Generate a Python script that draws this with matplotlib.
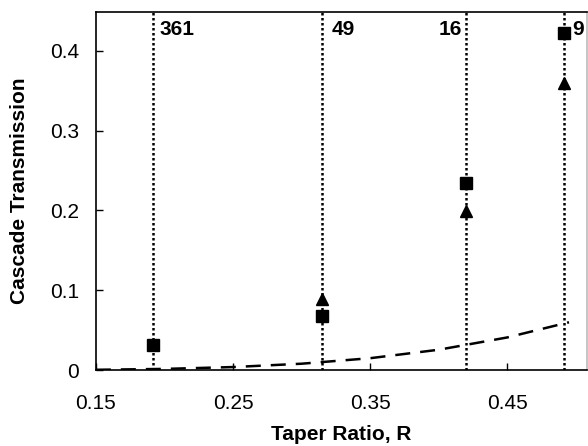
import matplotlib
matplotlib.use("Agg")
import matplotlib.pyplot as plt

plt.rcParams['font.family'] = ['Liberation Sans', 'DejaVu Sans']

# Taper ratios of the cascades and their labels (number of elements)
taper_R = [0.192, 0.315, 0.420, 0.491]
cascade_labels = ["361", "49", "16", "9"]

# Measured transmission (squares) and second series (triangles)
square_R = [0.192, 0.315, 0.420, 0.491]
square_T = [0.031, 0.0675, 0.235, 0.4225]
tri_R = [0.315, 0.420, 0.491]
tri_T = [0.089, 0.199, 0.359]

# Dashed theoretical curve
curve_R = [0.15, 0.20, 0.25, 0.30, 0.35, 0.40, 0.45, 0.495]
curve_T = [0.0005, 0.0016, 0.0039, 0.0081, 0.015, 0.0256, 0.041, 0.060]

xticks = [0.15, 0.25, 0.35, 0.45]
xticklabels = ["0.15", "0.25", "0.35", "0.45"]
yticks = [0, 0.1, 0.2, 0.3, 0.4]
yticklabels = ["0", "0.1", "0.2", "0.3", "0.4"]

fig = plt.figure(figsize=(5.88, 4.46), dpi=100)
ax = fig.add_axes([0.163, 0.170, 0.835, 0.804])

for r in taper_R:
    ax.axvline(r, color='black', linestyle=(0, (1, 1)), linewidth=1.8, zorder=1)

ax.plot(curve_R, curve_T, color='black', linestyle=(0, (6, 4)), linewidth=1.8, zorder=2)
ax.plot(square_R, square_T, linestyle='none', marker='s', markersize=8.5,
        color='black', zorder=3)
ax.plot(tri_R, tri_T, linestyle='none', marker='^', markersize=9,
        color='black', zorder=3)

# cascade labels
offsets = [(4, 'left'), (7, 'left'), (-3, 'right'), (6, 'left')]
for r, lab, (dx, ha) in zip(taper_R, cascade_labels, offsets):
    ax.annotate(lab, xy=(r, 0.426), xytext=(dx, 0), textcoords='offset points',
                ha=ha, va='center', fontsize=15, fontweight='bold')

ax.set_xlim(0.15, 0.508)
ax.set_ylim(0, 0.449)
ax.set_xticks(xticks)
ax.set_xticklabels(xticklabels)
ax.set_yticks(yticks)
ax.set_yticklabels(yticklabels)
ax.tick_params(direction='in', length=5, width=1, labelsize=15)
ax.tick_params(axis='x', pad=17)
ax.tick_params(axis='y', pad=12)
for s in ax.spines.values():
    s.set_linewidth(1.2)
ax.spines['right'].set_color('#bbbbbb')

ax.set_xlabel("Taper Ratio, R", fontsize=15, fontweight='bold', labelpad=9)
ax.set_ylabel("Cascade Transmission", fontsize=15, fontweight='bold', labelpad=15)

fig.savefig("out.png", dpi=100)
